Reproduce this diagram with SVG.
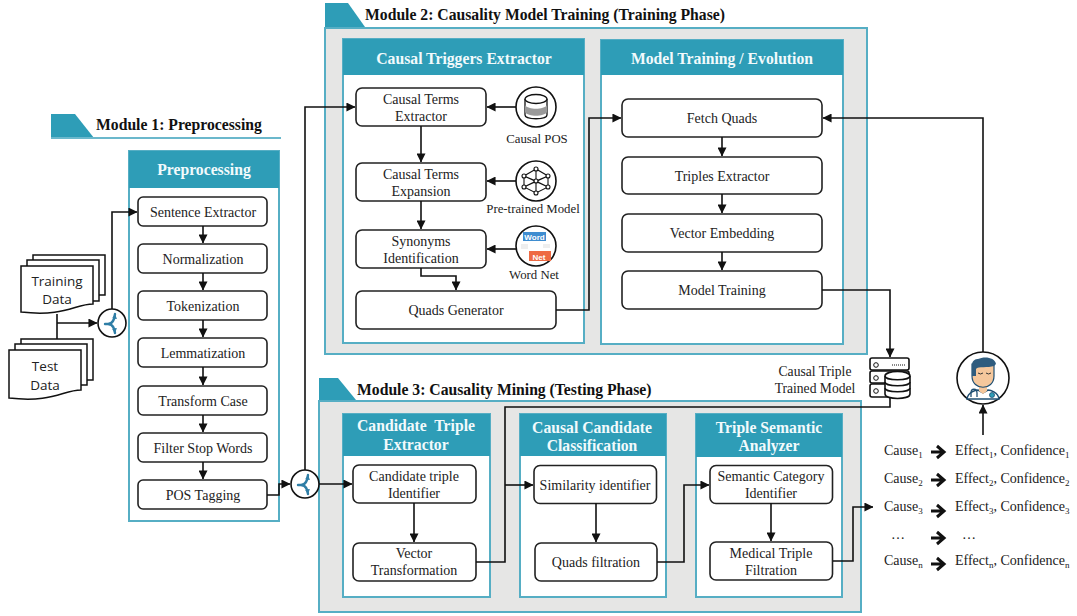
<svg xmlns="http://www.w3.org/2000/svg" width="1077" height="616" viewBox="0 0 1077 616">
<style>
text{font-family:"Liberation Serif","Times New Roman",serif;font-size:14px;fill:#222;text-anchor:middle}
.t{font-weight:bold;font-size:15.7px;fill:#111;text-anchor:start}
.h{font-weight:bold;font-size:15.7px;fill:#f2fafc}
.s{font-family:"Open Sans","DejaVu Sans",sans-serif;font-size:13.5px}
.ico{font-size:12.8px}
.l{text-anchor:start}
.sub{font-size:9px}
.band{fill:#2e9db7}
.rule{stroke:#6bb8cc;stroke-width:2;fill:none}
.mod{fill:#e6e6e5;stroke:#56aec4;stroke-width:2}
.panel{fill:#fff;stroke:#56aec4;stroke-width:2}
.box{fill:#fff;stroke:#222;stroke-width:1.6}
.c{fill:none;stroke:#111;stroke-width:1.6}
.ic{fill:#fff;stroke:#111;stroke-width:1.6}
.doc{fill:#fff;stroke:#111;stroke-width:1.5}
.big{fill:none;stroke:#111;stroke-width:3}
.blue{fill:none;stroke:#2f7ea6;stroke-width:2.4;stroke-linecap:round}
</style>
<defs>
<marker id="a" viewBox="0 0 10 10" refX="9.5" refY="5" markerWidth="9" markerHeight="9" markerUnits="userSpaceOnUse" orient="auto"><path d="M0 0L10 5L0 10Z" fill="#111"/></marker>
<marker id="a2" viewBox="0 0 10 10" refX="9.5" refY="5" markerWidth="5" markerHeight="5" markerUnits="userSpaceOnUse" orient="auto"><path d="M0 0L10 5L0 10Z" fill="#2f7ea6"/></marker>
<g id="fork"><circle r="14" class="ic"/><path class="blue" d="M-7 1H-2"/><path class="blue" marker-end="url(#a2)" d="M-3 1Q2 0 3 -9"/><path class="blue" marker-end="url(#a2)" d="M-3 1Q2 2 3 10"/></g>
</defs>

<g id="module1"><polygon class="band" points="51,114 75,114 94,138 51,138"/><path class="rule" d="M51 138H281"/><text class="t" x="96" y="130">Module 1: Preprocessing</text></g>
<g id="preprocessing"><rect class="panel" x="129" y="151" width="150" height="370"/><rect class="band" x="129" y="151" width="150" height="37"/><text class="h" x="204" y="175">Preprocessing</text></g>
<g id="n-sentence"><rect class="box" x="138" y="197" width="129" height="29" rx="5"/><text x="203" y="217">Sentence Extractor</text></g>
<g id="n-normalization"><rect class="box" x="138" y="244" width="129" height="29" rx="5"/><text x="203" y="264">Normalization</text></g>
<g id="n-tokenization"><rect class="box" x="138" y="291" width="129" height="29" rx="5"/><text x="203" y="311">Tokenization</text></g>
<g id="n-lemmatization"><rect class="box" x="138" y="338" width="129" height="29" rx="5"/><text x="203" y="358">Lemmatization</text></g>
<g id="n-transform"><rect class="box" x="138" y="386" width="129" height="29" rx="5"/><text x="203" y="406">Transform Case</text></g>
<g id="n-filter"><rect class="box" x="138" y="433" width="129" height="29" rx="5"/><text x="203" y="453">Filter Stop Words</text></g>
<g id="n-pos"><rect class="box" x="138" y="480" width="129" height="29" rx="5"/><text x="203" y="500">POS Tagging</text></g>

<g id="training-data">
<path class="doc" d="M33 255H105V295H33Z"/><path class="doc" d="M27 260H99V301H27Z"/>
<path class="doc" d="M21 266H93V304C75 304 65 317 21 312Z"/>
<text class="s" x="57" y="286">Training</text><text class="s" x="57" y="304">Data</text></g>
<g id="test-data">
<path class="doc" d="M21 339H93V380H21Z"/><path class="doc" d="M15 344H87V385H15Z"/>
<path class="doc" d="M9 350H81V390C63 390 53 403 9 398Z"/>
<text class="s" x="45" y="371">Test</text><text class="s" x="45" y="390">Data</text></g>

<g id="module2"><rect class="mod" x="325" y="28" width="542" height="326"/><polygon class="band" points="325,3 348,3 365,27 325,27"/><text class="t" x="365" y="20">Module 2: Causality Model Training (Training Phase)</text></g>
<g id="triggers"><rect class="panel" x="343" y="39" width="241" height="304"/><rect class="band" x="343" y="39" width="241" height="36"/><text class="h" x="464" y="64">Causal Triggers Extractor</text></g>
<g id="evolution"><rect class="panel" x="601" y="40" width="242" height="304"/><rect class="band" x="601" y="40" width="242" height="35"/><text class="h" x="722" y="64">Model Training / Evolution</text></g>
<g id="n-terms"><rect class="box" x="356" y="88" width="130" height="38" rx="6"/><text x="421" y="104">Causal Terms</text><text x="421" y="121">Extractor</text></g>
<g id="n-expansion"><rect class="box" x="356" y="163" width="130" height="38" rx="6"/><text x="421" y="179">Causal Terms</text><text x="421" y="196">Expansion</text></g>
<g id="n-synonyms"><rect class="box" x="356" y="230" width="130" height="38" rx="6"/><text x="421" y="246">Synonyms</text><text x="421" y="263">Identification</text></g>
<g id="n-quads"><rect class="box" x="356" y="291" width="200" height="38" rx="6"/><text x="456" y="315">Quads Generator</text></g>
<g id="causal-pos"><circle class="ic" cx="536" cy="107" r="20"/><path d="M525 99V115C525 120 547 120 547 115V99" fill="#fff" stroke="#111" stroke-width="1.300"/><ellipse cx="536" cy="99" rx="11" ry="4.500" fill="#fff" stroke="#111" stroke-width="1.300"/><path d="M525 105C528 110 544 110 547 105V112C544 117 528 117 525 112Z" fill="#999"/><text class="ico" x="537" y="143">Causal POS</text></g>
<g id="pretrained"><circle class="ic" cx="536" cy="181" r="20"/><path fill="none" stroke="#111" stroke-width="1.100" d="M536 169L524 176L536 181L548 176ZM524 176L524 187L536 193L548 187L548 176M536 169V193M524 187L536 181L548 187M524 176L548 187M548 176L524 187"/><g fill="#fff" stroke="#111" stroke-width="1.100"><circle cx="536" cy="169" r="2"/><circle cx="524" cy="176" r="2"/><circle cx="548" cy="176" r="2"/><circle cx="536" cy="181" r="2"/><circle cx="524" cy="187" r="2"/><circle cx="548" cy="187" r="2"/><circle cx="536" cy="193" r="2"/></g><text class="ico" x="533" y="213">Pre-trained Model</text></g>
<g id="wordnet"><circle class="ic" cx="536" cy="246" r="20"/><rect x="523" y="232" width="23" height="9" fill="#3f8dd0"/><text x="534.500" y="240" style="font-family:'Liberation Sans',sans-serif;font-size:8px;font-weight:bold;fill:#fff">Word</text><rect x="529" y="251" width="22" height="10" fill="#ee6a43"/><text x="539" y="259.500" style="font-family:'Liberation Sans',sans-serif;font-size:8px;font-weight:bold;fill:#fff">Net</text><rect x="521" y="244" width="7" height="5" fill="#eee"/><rect x="543" y="244" width="7" height="4" fill="#eee"/><text class="ico" x="534" y="279">Word Net</text></g>
<g id="n-fetch"><rect class="box" x="622" y="99" width="200" height="38" rx="6"/><text x="722" y="123">Fetch Quads</text></g>
<g id="n-triples"><rect class="box" x="622" y="157" width="200" height="37" rx="6"/><text x="722" y="181">Triples Extractor</text></g>
<g id="n-vector"><rect class="box" x="622" y="214" width="200" height="38" rx="6"/><text x="722" y="238">Vector Embedding</text></g>
<g id="n-training"><rect class="box" x="622" y="271" width="200" height="38" rx="6"/><text x="722" y="295">Model Training</text></g>

<g id="module3"><rect class="mod" x="319" y="401" width="542" height="211"/><polygon class="band" points="319,378 338,378 356,400 319,400"/><text class="t" x="357" y="395">Module 3: Causality Mining (Testing Phase)</text></g>
<g id="candidate"><rect class="panel" x="343" y="414" width="147" height="183"/><rect class="band" x="343" y="414" width="147" height="42"/><text class="h" x="416" y="431">Candidate&#160; Triple</text><text class="h" x="416" y="450">Extractor</text></g>
<g id="classification"><rect class="panel" x="520" y="414" width="146" height="183"/><rect class="band" x="520" y="414" width="146" height="42"/><text class="h" x="592" y="433">Causal Candidate</text><text class="h" x="592" y="451">Classification</text></g>
<g id="semantic"><rect class="panel" x="696" y="414" width="146" height="183"/><rect class="band" x="696" y="414" width="146" height="43"/><text class="h" x="769" y="433">Triple Semantic</text><text class="h" x="769" y="451">Analyzer</text></g>
<g id="n-cand"><rect class="box" x="353" y="465" width="123" height="38" rx="6"/><text x="414" y="481">Candidate triple</text><text x="414" y="498">Identifier</text></g>
<g id="n-vt"><rect class="box" x="353" y="543" width="123" height="38" rx="6"/><text x="414" y="558">Vector</text><text x="414" y="575">Transformation</text></g>
<g id="n-sim"><rect class="box" x="534" y="465.500" width="122.500" height="38" rx="6"/><text x="595" y="490">Similarity identifier</text></g>
<g id="n-qf"><rect class="box" x="535" y="543" width="122" height="38" rx="6"/><text x="596" y="567">Quads filtration</text></g>
<g id="n-sci"><rect class="box" x="710" y="465.500" width="122.500" height="38" rx="6"/><text x="771" y="481">Semantic Category</text><text x="771" y="498">Identifier</text></g>
<g id="n-mtf"><rect class="box" x="710" y="542" width="122.500" height="38" rx="6"/><text x="771" y="558">Medical Triple</text><text x="771" y="575">Filtration</text></g>

<g id="trained-model">
<text style="font-size:13.600px" x="815" y="376">Causal Triple</text><text style="font-size:13.600px" x="815" y="393">Trained Model</text>
<rect class="ic" x="870" y="358" width="39" height="12" rx="2"/><rect class="ic" x="870" y="371" width="39" height="12" rx="2"/><rect class="ic" x="870" y="384" width="39" height="13" rx="2"/>
<circle cx="876" cy="365" r="2.300" fill="#fff" stroke="#111"/><circle cx="876" cy="378" r="2.300" fill="#fff" stroke="#111"/><circle cx="876" cy="391" r="2.300" fill="#fff" stroke="#111"/>
<path d="M892 365H905" stroke="#111" stroke-dasharray="1 1" fill="none"/>
<path class="ic" d="M885 376C885 370 910 370 910 376V394C910 400 885 400 885 394Z"/><path fill="none" stroke="#111" stroke-width="1.500" d="M885 376C885 381 910 381 910 376M885 382C885 387 910 387 910 382M885 388C885 393 910 393 910 388"/></g>
<g id="doctor"><circle class="ic" cx="983" cy="378" r="26"/>
<path d="M967 399C968 392 976 390 978 390L983 393L988 390C990 390 998 392 999 399Z" fill="#fff" stroke="#1f4f73" stroke-width="1.500"/>
<path d="M979 384V391L983 394L987 391V384Z" fill="#f5c79c"/>
<path d="M972 364H994V376C994 391 972 391 972 376Z" fill="#f5c79c" stroke="#1f4f73" stroke-width="1.200"/>
<path d="M972 376V365C972 360 976 359 978 359C984 356 995 357 996 364L994 366C988 368 978 366 976 369V376Z" fill="#2f5c7e"/>
<path d="M978 373q2.500 2 5 0M986 373q2.500 2 5 0" fill="none" stroke="#333" stroke-width="1"/>
<path d="M971 397V393C971 388 977 388 977 393V397" fill="none" stroke="#1f4f73" stroke-width="1.300"/>
<circle cx="992" cy="395" r="2.500" fill="#2e9db7" stroke="#1f4f73" stroke-width="0.800"/></g>

<g id="results">
<text class="l" x="884" y="455">Cause<tspan class="sub" dy="3">1</tspan></text><text class="l" x="955" y="455">Effect<tspan class="sub" dy="3">1</tspan><tspan dy="-3">, Confidence</tspan><tspan class="sub" dy="3">1</tspan></text>
<text class="l" x="884" y="483">Cause<tspan class="sub" dy="3">2</tspan></text><text class="l" x="955" y="483">Effect<tspan class="sub" dy="3">2</tspan><tspan dy="-3">, Confidence</tspan><tspan class="sub" dy="3">2</tspan></text>
<text class="l" x="884" y="511">Cause<tspan class="sub" dy="3">3</tspan></text><text class="l" x="955" y="511">Effect<tspan class="sub" dy="3">3</tspan><tspan dy="-3">, Confidence</tspan><tspan class="sub" dy="3">3</tspan></text>
<text class="l" x="891" y="539">…</text><text class="l" x="962" y="539">…</text>
<text class="l" x="884" y="565">Cause<tspan class="sub" dy="3">n</tspan></text><text class="l" x="955" y="565">Effect<tspan class="sub" dy="3">n</tspan><tspan dy="-3">, Confidence</tspan><tspan class="sub" dy="3">n</tspan></text>
<path class="big" d="M931 452H943M937 446L944 452L937 458M931 480H943M937 474L944 480L937 486M931 511H943M937 505L944 511L937 517M931 538H943M937 532L944 538L937 544M931 564H943M937 558L944 564L937 570"/></g>

<g id="forks"><use href="#fork" x="112" y="323"/><use href="#fork" x="305" y="484"/></g>

<g id="connectors">
<path class="c" d="M57 314V339M57 323H97" marker-end="url(#a)"/>
<path class="c" d="M112 309V212H137" marker-end="url(#a)"/>
<path class="c" d="M203 226V243" marker-end="url(#a)"/><path class="c" d="M203 273V290" marker-end="url(#a)"/><path class="c" d="M203 320V337" marker-end="url(#a)"/><path class="c" d="M203 367V385" marker-end="url(#a)"/><path class="c" d="M203 415V432" marker-end="url(#a)"/><path class="c" d="M203 462V479" marker-end="url(#a)"/>
<path class="c" d="M267 495H279V484H290" marker-end="url(#a)"/>
<path class="c" d="M305 470V107H355" marker-end="url(#a)"/>
<path class="c" d="M319 484H352" marker-end="url(#a)"/>
<path class="c" d="M421 126V162" marker-end="url(#a)"/><path class="c" d="M421 201V229" marker-end="url(#a)"/><path class="c" d="M421 268V276H456V290" marker-end="url(#a)"/>
<path class="c" d="M516 107H487" marker-end="url(#a)"/><path class="c" d="M516 181H487" marker-end="url(#a)"/><path class="c" d="M516 249H487" marker-end="url(#a)"/>
<path class="c" d="M556 310H589V118H621" marker-end="url(#a)"/>
<path class="c" d="M722 137V156" marker-end="url(#a)"/><path class="c" d="M722 194V213" marker-end="url(#a)"/><path class="c" d="M722 252V270" marker-end="url(#a)"/>
<path class="c" d="M822 290H890V357" marker-end="url(#a)"/>
<path class="c" d="M890 397V407H505V562H476"/>
<path class="c" d="M505 485H533" marker-end="url(#a)"/>
<path class="c" d="M414 503V542" marker-end="url(#a)"/>
<path class="c" d="M596 503V542" marker-end="url(#a)"/>
<path class="c" d="M657 562H684V485H709" marker-end="url(#a)"/>
<path class="c" d="M771 503V541" marker-end="url(#a)"/>
<path class="c" d="M833 561H853V507H873" marker-end="url(#a)"/>
<path class="c" d="M983 352V118H823" marker-end="url(#a)"/>
<path class="c" d="M983 435V405" marker-end="url(#a)"/>
</g>
</svg>
